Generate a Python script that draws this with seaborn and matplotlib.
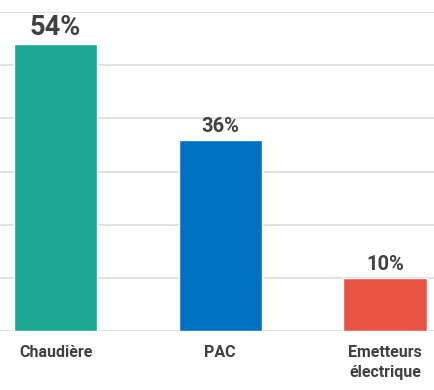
import matplotlib
matplotlib.use("Agg")
import matplotlib.pyplot as plt
import seaborn as sns
import pandas as pd

categories = ["Chaudière", "PAC", "Emetteurs\nélectrique"]
values = [54, 36, 10]
value_labels = ["54%", "36%", "10%"]

colors = ["#1DA896", "#0070C0", "#E85544"]
label_sizes = [19.5, 14.5, 14.5]
label_offsets = [6.5, 5.3, 5.3]
text_color = "#404040"

sns.set_theme(style="white")
plt.rcParams["font.family"] = ["Roboto", "DejaVu Sans"]

df = pd.DataFrame({"cat": categories, "val": values})

fig = plt.figure(figsize=(4.34, 3.9), dpi=100)
ax = fig.add_axes([0, 59 / 390, 1, (331 - 12) / 390])

sns.barplot(data=df, x="cat", y="val", hue="cat", palette=colors,
            legend=False, width=0.505, saturation=1, ax=ax, zorder=3)

ax.set_ylim(0, 60)
ax.set_xlim(-55.5 / 164.5, 2 + (434 - 385) / 164.5)
ax.set_yticks(range(0, 61, 10))
ax.yaxis.grid(True, color="#d9d9d9", linewidth=1.1, zorder=0)
ax.set_axisbelow(True)
for s in ax.spines.values():
    s.set_visible(False)
ax.tick_params(axis="y", left=False, labelleft=False)
ax.tick_params(axis="x", bottom=False, pad=4)
ax.set_xlabel("")
ax.set_ylabel("")
for lab in ax.get_xticklabels():
    lab.set_fontsize(11.5)
    lab.set_fontweight("bold")
    lab.set_color(text_color)
    lab.set_verticalalignment("top")
    lab.set_linespacing(1.45)

for i, (v, t, fs, off) in enumerate(zip(values, value_labels, label_sizes, label_offsets)):
    ax.annotate(t, xy=(i, v), xytext=(0, off), textcoords="offset points",
                ha="center", va="baseline", fontsize=fs, fontweight="bold",
                color=text_color, zorder=4)

fig.savefig("out.png", dpi=100)
